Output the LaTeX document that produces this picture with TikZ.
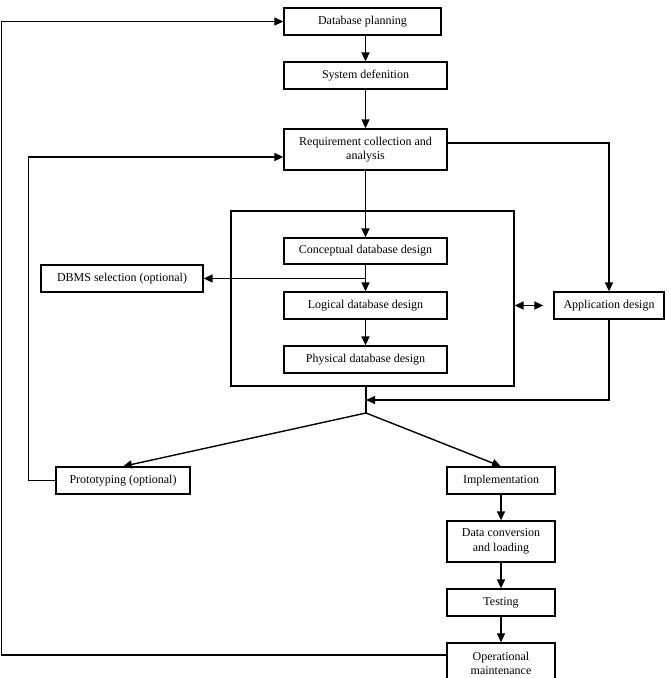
\documentclass[tikz,border=0pt]{standalone}
\usepackage{fontspec}
\setmainfont{Liberation Serif}
\usetikzlibrary{arrows.meta}
\usetikzlibrary{calc}

\tikzset{
  stage/.style={draw, line width=1.3pt, minimum height=27pt, inner sep=1pt, align=center, font=\fontsize{12}{14.5}\selectfont},
  flow/.style={line width=1.4pt, -{Triangle[length=9pt,width=8pt]}},
  wire/.style={line width=1.4pt}
}

\begin{document}
\begin{tikzpicture}[x=1pt, y=-1pt]
    \clip (0,0) rectangle (670,678);

    \node[draw, line width=1.3pt, minimum width=283pt, minimum height=175pt] (frame) at (372.5,298.5) {};

    \node[stage, minimum width=157pt] (plan) at (362.5,21.5) {Database planning};
    \node[stage, minimum width=163pt] (sysdef) at (365.5,75.5) {System defenition};
    \node[stage, minimum width=163pt, minimum height=41pt] (req) at (365.5,149.5) {Requirement collection and\\analysis};
    \node[stage, minimum width=163pt, minimum height=26pt] (concept) at (365.5,251) {Conceptual database design};
    \node[stage, minimum width=162pt] (dbms) at (122,278.5) {DBMS selection (optional)};
    \node[stage, minimum width=163pt] (logical) at (365.5,305.5) {Logical database design};
    \node[stage, minimum width=163pt] (physical) at (365.5,359.5) {Physical database design};
    \node[stage, minimum width=110pt] (app) at (609,305.5) {Application design};
    \node[stage, minimum width=134pt] (proto) at (123,480.5) {Prototyping (optional)};
    \node[stage, minimum width=108pt] (impl) at (501,480.5) {Implementation};
    \node[stage, minimum width=108pt, minimum height=41pt] (conv) at (501,541.5) {Data conversion\\and loading};
    \node[stage, minimum width=108pt] (test) at (501,602.5) {Testing};
    \node[stage, minimum width=108pt, minimum height=41pt] (maint) at (501,663.5) {Operational\\maintenance};

    \coordinate (merge) at (366,400);
    \coordinate (split) at (366,413);

    \draw[flow] (plan.south -| sysdef.north) -- (sysdef.north);
    \draw[flow] (sysdef) -- (req);
    \draw[flow] (req) -- (concept);
    \draw[flow] (concept) -- (logical);
    \draw[flow] (concept.south |- dbms.east) -- (dbms.east);
    \draw[flow] (logical) -- (physical);

    \draw[flow] ($(req.east)+(0,-6.5)$) -| (app.north);
    \draw[wire, {Triangle[length=9pt,width=8pt]}-{Triangle[length=9pt,width=8pt]}] (frame.east |- app.west) -- ($(app.west)+(-10,0)$);
    \draw[flow] (app.south) |- (merge);
    \draw[wire] (frame.south -| split) -- (split);

    \draw[flow] (split) -- (proto.north);
    \draw[flow] (split) -- (impl.north);
    \draw[flow] (impl) -- (conv);
    \draw[flow] (conv) -- (test);
    \draw[flow] (test) -- (maint);

    \draw[flow] (proto.west) -- ++(-27,0) |- ($(req.west)+(0,7.5)$);
    \draw[flow] ($(maint.west)+(0,-8.5)$) -- ++(-445,0) |- (plan.west);
\end{tikzpicture}
\end{document}
